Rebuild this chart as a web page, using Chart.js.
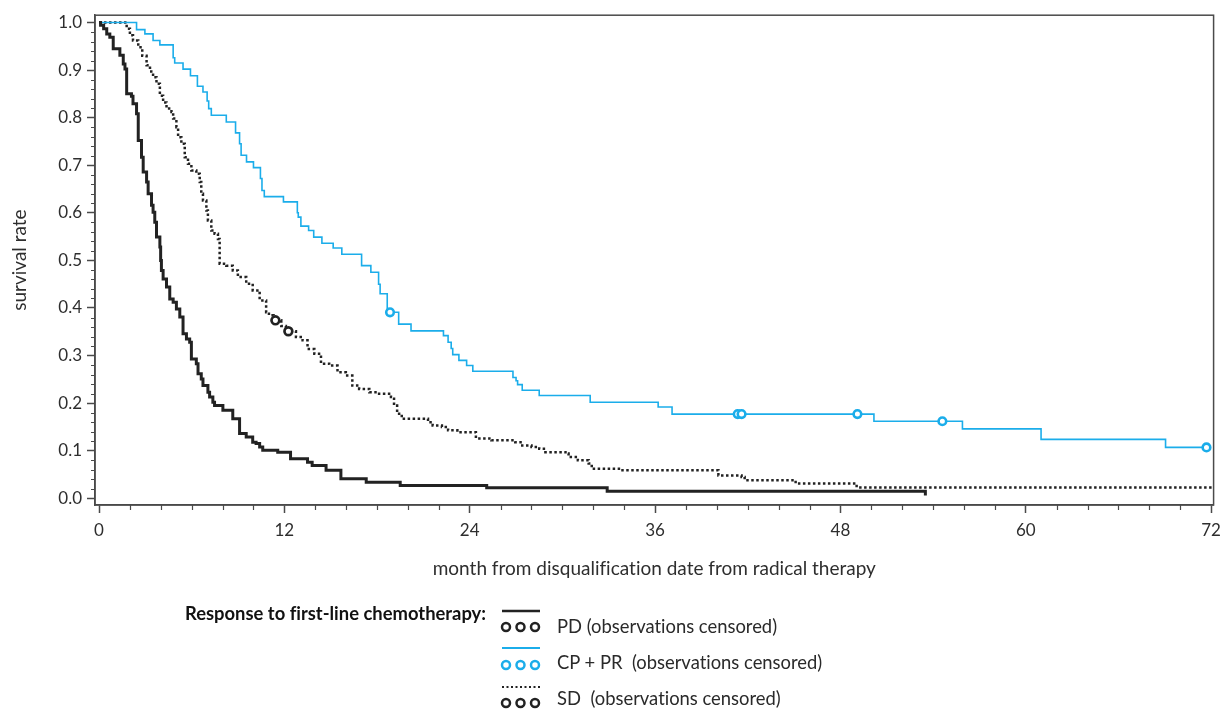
<!DOCTYPE html>
<html lang="en">
<head>
<meta charset="UTF-8">
<title>Survival by response to first-line chemotherapy</title>
<script src="https://cdn.jsdelivr.net/npm/chart.js"></script>
<style>
  body { margin: 0; background: #fff; }
  #wrap { position: relative; width: 1228px; height: 710px; font-family: Lato, sans-serif; font-variant-ligatures: none; }
  #chart { position: absolute; left: 0; top: 0; }
  .lg { position: absolute; font-size: 18.4px; line-height: 20px; color: #2a2a2a; white-space: nowrap; }
  .lg-title { font-weight: bold; color: #111; }
  svg.key { position: absolute; left: 500px; width: 44px; height: 34px; }
</style>
</head>
<body>
<div id="wrap">
  <canvas id="chart" width="1228" height="710"></canvas>

  <div class="lg lg-title" style="left:185px; top:603px;">Response to first-line chemotherapy:</div>

  <svg class="key" style="top:600px;">
    <line x1="2" y1="11" x2="40" y2="11" stroke="#222" stroke-width="2.5"/>
    <circle cx="6" cy="27" r="4" fill="#fff" stroke="#222" stroke-width="2.5"/>
    <circle cx="20.5" cy="27" r="4" fill="#fff" stroke="#222" stroke-width="2.5"/>
    <circle cx="35" cy="27" r="4" fill="#fff" stroke="#222" stroke-width="2.5"/>
  </svg>
  <div class="lg" style="left:557px; top:616px;">PD (observations censored)</div>

  <svg class="key" style="top:637px;">
    <line x1="2" y1="11" x2="40" y2="11" stroke="#1badea" stroke-width="2"/>
    <circle cx="6" cy="28" r="4" fill="#fff" stroke="#1badea" stroke-width="2.5"/>
    <circle cx="20.5" cy="28" r="4" fill="#fff" stroke="#1badea" stroke-width="2.5"/>
    <circle cx="35" cy="28" r="4" fill="#fff" stroke="#1badea" stroke-width="2.5"/>
  </svg>
  <div class="lg" style="left:557px; top:652px;">CP + PR&nbsp; (observations censored)</div>

  <svg class="key" style="top:676px;">
    <line x1="2" y1="11" x2="40" y2="11" stroke="#222" stroke-width="2" stroke-dasharray="2 2.5"/>
    <circle cx="6" cy="27" r="4" fill="#fff" stroke="#222" stroke-width="2.5"/>
    <circle cx="20.5" cy="27" r="4" fill="#fff" stroke="#222" stroke-width="2.5"/>
    <circle cx="35" cy="27" r="4" fill="#fff" stroke="#222" stroke-width="2.5"/>
  </svg>
  <div class="lg" style="left:557px; top:688px;">SD&nbsp; (observations censored)</div>
</div>

<script>
// axis ticks
var xTicks = [0, 12, 24, 36, 48, 60, 72];
var yTicks = [0, 0.1, 0.2, 0.3, 0.4, 0.5, 0.6, 0.7, 0.8, 0.9, 1.0];

// PD
var pdMonths = [0, 0.1, 0.3, 0.5, 0.7, 0.92, 1.35, 1.57, 1.68, 1.79, 2.1, 2.2, 2.43, 2.54, 2.75, 2.86,
  3.08, 3.18, 3.4, 3.5, 3.61, 3.72, 3.94, 3.99, 4.04, 4.15, 4.37, 4.58, 4.8, 5.01, 5.23, 5.44, 5.66,
  5.87, 5.98, 6.3, 6.41, 6.62, 6.73, 7.05, 7.16, 7.37, 7.48, 8.02, 8.66, 9.1, 9.53, 9.95, 10.17,
  10.4, 10.6, 11.57, 12.4, 13.5, 13.8, 14.7, 15.66, 17.3, 19.5, 25.1, 32.9, 53.5];
var pdSurvival = [1.0, 0.994, 0.987, 0.976, 0.969, 0.945, 0.931, 0.913, 0.902, 0.85, 0.845, 0.829, 0.808, 0.752, 0.717, 0.686,
  0.665, 0.64, 0.616, 0.601, 0.58, 0.549, 0.528, 0.5, 0.479, 0.461, 0.444, 0.419, 0.412, 0.398, 0.381, 0.346, 0.335,
  0.328, 0.293, 0.283, 0.262, 0.251, 0.237, 0.223, 0.213, 0.202, 0.195, 0.185, 0.167, 0.136, 0.129, 0.118, 0.115,
  0.108, 0.101, 0.097, 0.083, 0.076, 0.069, 0.059, 0.041, 0.034, 0.027, 0.022, 0.015, 0.006];

// CP + PR
var crMonths = [0, 2.43, 2.97, 3.5, 3.94, 4.8, 4.9, 5.44, 5.92, 6.37, 6.73, 7.0, 7.1, 7.27, 8.24, 8.84, 9.1,
  9.2, 9.55, 10.0, 10.45, 10.55, 10.7, 11.94, 12.84, 12.9, 13.07, 13.57, 13.9, 14.43, 15.16, 15.72, 17.0,
  17.6, 18.1, 18.2, 18.66, 19.4, 20.2, 22.3, 22.6, 22.8, 22.9, 23.3, 23.8, 24.2, 26.8, 27.0, 27.1, 27.4,
  28.5, 31.8, 36.2, 37.1, 50.17, 55.9, 60.99, 69.05, 71.7];
var crSurvival = [1.0, 0.985, 0.976, 0.962, 0.953, 0.926, 0.915, 0.902, 0.888, 0.866, 0.854, 0.835, 0.819, 0.805, 0.791, 0.768, 0.745,
  0.721, 0.707, 0.695, 0.672, 0.647, 0.634, 0.623, 0.6, 0.591, 0.572, 0.563, 0.549, 0.536, 0.526, 0.513, 0.489,
  0.475, 0.45, 0.43, 0.391, 0.366, 0.352, 0.342, 0.328, 0.315, 0.302, 0.29, 0.279, 0.267, 0.254, 0.247, 0.239, 0.227,
  0.216, 0.202, 0.192, 0.177, 0.162, 0.146, 0.124, 0.107, 0.107];
var crCensorMonths = [18.84, 41.35, 41.6, 49.1, 54.6, 71.7];
var crCensorSurvival = [0.391, 0.177, 0.177, 0.177, 0.162, 0.107];

// SD
var sdMonths = [0, 1.79, 2.0, 2.2, 2.54, 2.8, 3.08, 3.3, 3.5, 3.72, 3.94, 4.15, 4.37, 4.69, 4.8, 5.01, 5.12,
  5.33, 5.55, 5.76, 5.98, 6.3, 6.52, 6.62, 6.73, 6.95, 7.05, 7.27, 7.48, 7.7, 7.81, 8.24, 8.66, 8.99, 9.53,
  9.95, 10.4, 10.82, 11.0, 11.3, 11.8, 12.1, 12.75, 13.18, 13.5, 13.94, 14.37, 14.9, 15.44, 15.98, 16.4,
  16.84, 17.5, 17.9, 18.9, 19.1, 19.3, 19.6, 21.3, 21.6, 22.2, 22.6, 23.2, 24.4, 25.4, 26.95, 27.4, 28.0,
  28.5, 28.9, 30.2, 30.4, 31.0, 31.7, 31.9, 33.8, 40.1, 41.6, 41.8, 45.1, 49.05, 72.1];
var sdSurvival = [1.0, 0.987, 0.973, 0.962, 0.948, 0.93, 0.91, 0.897, 0.885, 0.871, 0.846, 0.832, 0.819, 0.812, 0.798, 0.78, 0.759,
  0.745, 0.717, 0.703, 0.689, 0.682, 0.665, 0.64, 0.626, 0.605, 0.584, 0.563, 0.556, 0.545, 0.493, 0.489, 0.479, 0.465, 0.451,
  0.437, 0.416, 0.391, 0.385, 0.374, 0.362, 0.351, 0.339, 0.332, 0.314, 0.304, 0.283, 0.279, 0.265, 0.258, 0.237,
  0.23, 0.223, 0.22, 0.213, 0.195, 0.178, 0.167, 0.16, 0.153, 0.15, 0.143, 0.139, 0.126, 0.122, 0.118, 0.111, 0.108,
  0.104, 0.097, 0.094, 0.087, 0.08, 0.073, 0.062, 0.059, 0.048, 0.045, 0.038, 0.031, 0.023, 0.023];
var sdCensorMonths = [11.42, 12.26];
var sdCensorSurvival = [0.374, 0.351];

function pts(xs, ys) {
  return xs.map(function (m, i) { return { x: m, y: ys[i] }; });
}

var BLUE = '#1badea';
var DARK = '#222222';
var AXIS = '#4a4a4a';
var TEXT = '#2e2e2e';

// box round the plot and the small ticks between labels
var framePlugin = {
  id: 'frame',
  afterDraw: function (chart) {
    var ctx = chart.ctx, a = chart.chartArea, x = chart.scales.x, y = chart.scales.y;
    ctx.save();
    ctx.strokeStyle = AXIS;
    ctx.lineWidth = 1.5;
    ctx.strokeRect(a.left, a.top, a.right - a.left, a.bottom - a.top);
    ctx.beginPath();
    for (var m = 0; m <= 72; m += 2) {
      if (m % 12 === 0) continue;
      var px = Math.round(x.getPixelForValue(m)) + 0.5;
      ctx.moveTo(px, a.bottom);
      ctx.lineTo(px, a.bottom + 5);
    }
    for (var k = 0; k <= 50; k++) {
      if (k % 5 === 0) continue;
      var py = Math.round(y.getPixelForValue(k * 0.02)) + 0.5;
      ctx.moveTo(a.left, py);
      ctx.lineTo(a.left - 4, py);
    }
    ctx.lineWidth = 1.2;
    ctx.stroke();
    ctx.restore();
  }
};

var ctx = document.getElementById('chart').getContext('2d');
var chart = new Chart(ctx, {
  type: 'line',
  data: {
    datasets: [
      {
        type: 'scatter', data: pts(crCensorMonths, crCensorSurvival), showLine: false,
        pointStyle: 'circle', pointRadius: 3.8, pointBorderWidth: 2.6,
        pointBorderColor: BLUE, pointBackgroundColor: '#fff'
      },
      {
        type: 'scatter', data: pts(sdCensorMonths, sdCensorSurvival), showLine: false,
        pointStyle: 'circle', pointRadius: 3.9, pointBorderWidth: 2.7,
        pointBorderColor: DARK, pointBackgroundColor: '#fff'
      },
      {
        label: 'PD', data: pts(pdMonths, pdSurvival), stepped: 'before',
        borderColor: DARK, borderWidth: 3, pointRadius: 0, fill: false
      },
      {
        label: 'CP + PR', data: pts(crMonths, crSurvival), stepped: 'before',
        borderColor: BLUE, borderWidth: 1.6, pointRadius: 0, fill: false
      },
      {
        label: 'SD', data: pts(sdMonths, sdSurvival), stepped: 'before',
        borderColor: DARK, borderWidth: 2.5, borderDash: [2.5, 2.5], pointRadius: 0, fill: false
      }
    ]
  },
  options: {
    responsive: false,
    animation: false,
    layout: { padding: { top: 15, right: 10, left: 0, bottom: 0 } },
    plugins: { legend: { display: false }, tooltip: { enabled: false } },
    scales: {
      x: {
        type: 'linear', min: -0.26, max: 72.16,
        afterBuildTicks: function (s) { s.ticks = xTicks.map(function (v) { return { value: v }; }); },
        afterFit: function (s) { s.height = 205; },
        grid: { drawOnChartArea: false, drawTicks: true, tickLength: 8, tickColor: AXIS, tickWidth: 1.5 },
        border: { color: AXIS, width: 1.5 },
        ticks: { color: TEXT, padding: 7, maxRotation: 0, font: { family: 'Lato', size: 17 } },
        title: {
          display: true, text: 'month from disqualification date from radical therapy',
          color: TEXT, font: { family: 'Lato', size: 19 }, padding: { top: 0, bottom: 130 }
        }
      },
      y: {
        type: 'linear', min: -0.014, max: 1.0153,
        afterBuildTicks: function (s) { s.ticks = yTicks.map(function (v) { return { value: v }; }); },
        afterFit: function (s) { s.width = 95; },
        grid: { drawOnChartArea: false, drawTicks: true, tickLength: 8, tickColor: AXIS, tickWidth: 1.5 },
        border: { color: AXIS, width: 1.5 },
        ticks: {
          color: TEXT, padding: 5, font: { family: 'Lato', size: 17 },
          callback: function (v) { return Number(v).toFixed(1); }
        },
        title: {
          display: true, text: 'survival rate',
          color: TEXT, font: { family: 'Lato', size: 19 }, padding: { top: 8.5, bottom: 0 }
        }
      }
    }
  },
  plugins: [framePlugin]
});
</script>
</body>
</html>
